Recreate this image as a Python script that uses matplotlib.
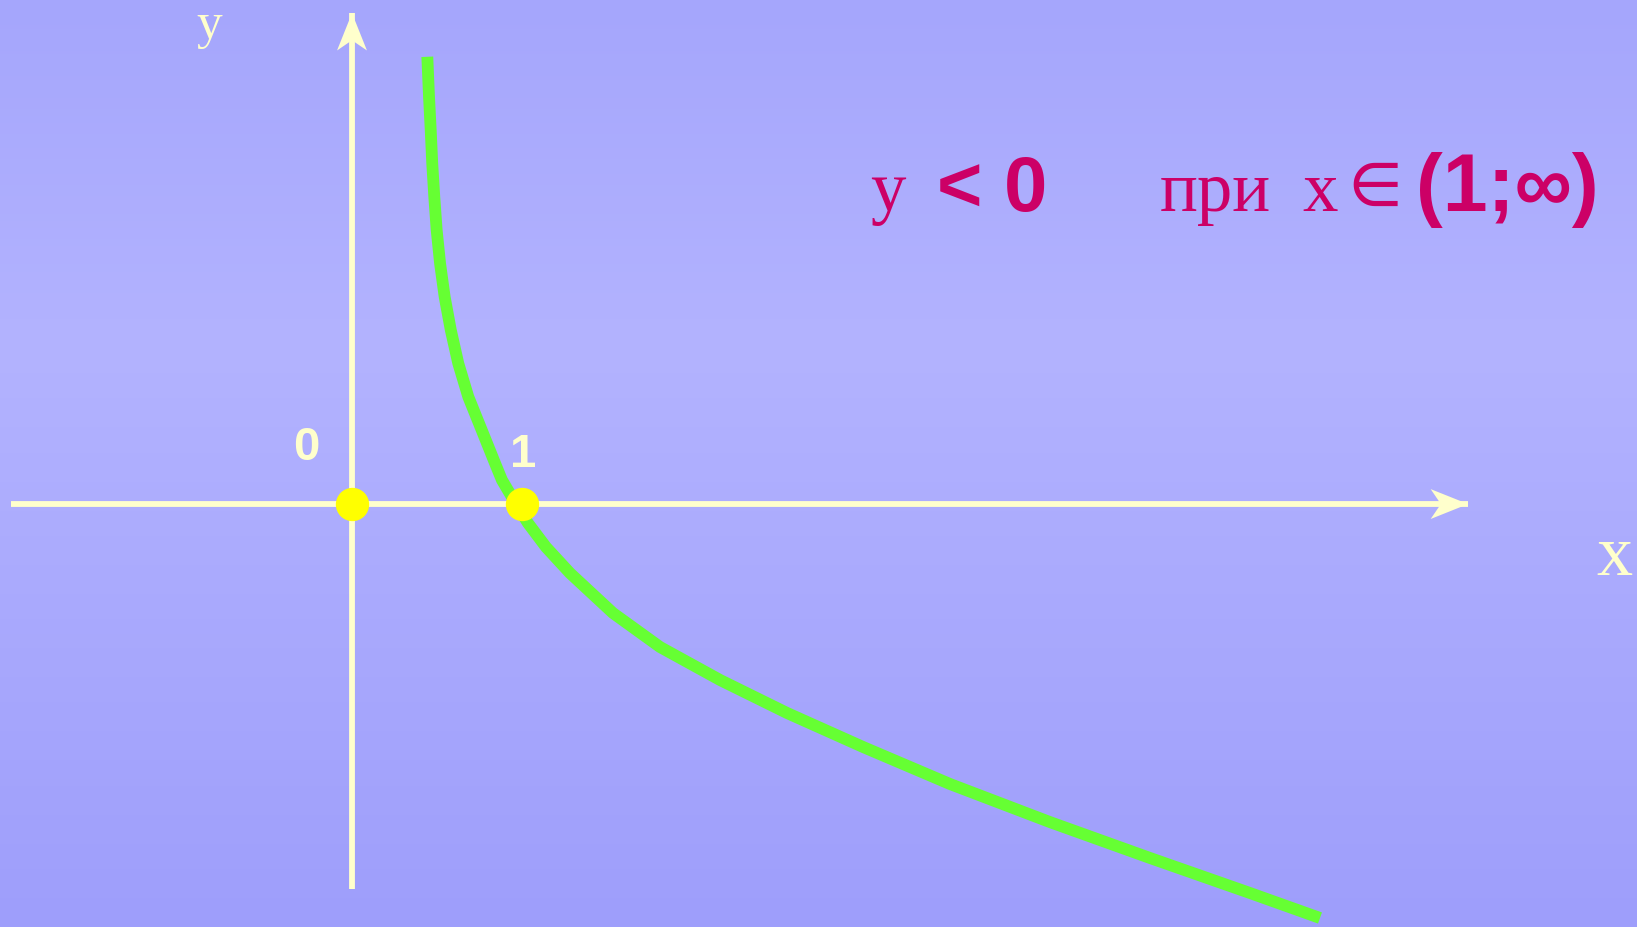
import matplotlib
matplotlib.use("Agg")
import matplotlib.pyplot as plt
import numpy as np
from matplotlib.patches import Polygon

# curve y = log_a(x), 0 < a < 1 (axis units)
curve_x = [0.443, 0.453, 0.463, 0.472, 0.484, 0.498, 0.518, 0.545, 0.581, 0.625,
           0.684, 0.763, 0.841, 0.882, 0.965, 1.035, 1.141, 1.282, 1.535, 1.812,
           2.165, 2.559, 3.006, 3.518, 4.106, 4.694, 5.282, 5.694]
curve_y = [2.631, 2.396, 2.200, 2.004, 1.808, 1.612, 1.416, 1.219, 1.024, 0.828,
           0.631, 0.435, 0.241, 0.141, 0.0, -0.112, -0.253, -0.406, -0.641, -0.841,
           -1.035, -1.229, -1.429, -1.647, -1.871, -2.082, -2.288, -2.435]

# marked points on the x axis
dot_x = [0, 1]
dot_y = [0, 0]
dot_labels = ['0', '1']

# axis extents
x_axis = [-2.006, 6.565]
y_axis = [-2.265, 2.888]

# view window (axis units)
xlim = (-2.0706, 7.5588)
ylim = (-2.488, 2.965)

axis_col = '#FFFFCC'
text_col = '#CC0066'

fig = plt.figure(figsize=(16.37, 9.27), dpi=100)
ax = fig.add_axes([0, 0, 1, 1])
ax.set_xlim(*xlim)
ax.set_ylim(*ylim)
ax.axis('off')

# background gradient (top -> light middle -> bottom)
stops = np.array([0.0, 0.37, 1.0])
cols = np.array([[165, 166, 252], [179, 179, 255], [158, 158, 251]]) / 255
t = np.linspace(0, 1, 256)
grad = np.stack([np.interp(t, stops, cols[:, i]) for i in range(3)], axis=1)
ax.imshow(grad[:, None, :], extent=[xlim[0], xlim[1], ylim[0], ylim[1]],
          aspect='auto', zorder=0)

# axes
ax.plot(x_axis, [0, 0], color=axis_col, lw=4.2, solid_capstyle='butt', zorder=2)
ax.plot([0, 0], y_axis, color=axis_col, lw=4.2, solid_capstyle='butt', zorder=2)


def arrow_head(tip, direction, length=0.22, half=0.088, notch=0.16):
    d = np.array(direction, float)
    n = np.array([-d[1], d[0]])
    tip = np.array(tip, float)
    pts = [tip, tip - d * length + n * half, tip - d * notch,
           tip - d * length - n * half]
    ax.add_patch(Polygon(pts, closed=True, color=axis_col, lw=0, zorder=3))


arrow_head((x_axis[1], 0), (1, 0))
arrow_head((0, y_axis[1]), (0, 1))

# curve
ax.plot(curve_x, curve_y, color='#66FF33', lw=8.5, solid_capstyle='butt',
        solid_joinstyle='round', zorder=4)

# points
ax.plot(dot_x, dot_y, 'o', color='#FFFF00', ms=24, mec='none', zorder=5)
ax.text(-0.27, 0.258, dot_labels[0], color=axis_col, fontsize=34,
        fontfamily='Liberation Sans', fontweight='bold', ha='center', va='baseline')
ax.text(1.006, 0.218, dot_labels[1], color=axis_col, fontsize=34,
        fontfamily='Liberation Sans', fontweight='bold', ha='center', va='baseline')

# axis names
ax.text(-0.84, 2.74, 'y', color=axis_col, fontsize=37,
        fontfamily='Liberation Serif', ha='center', va='baseline')
ax.text(7.424, -0.418, 'x', color=axis_col, fontsize=52,
        fontfamily='Liberation Serif', ha='center', va='baseline')

# statement
base = 1.722
serif = ['Liberation Serif', 'DejaVu Serif']
ax.text(3.05, base, 'y', color=text_col, fontsize=51, family=serif, va='baseline')
ax.text(3.44, base, '< 0', color=text_col, fontsize=56,
        fontfamily='Liberation Sans', fontweight='bold', va='baseline')
ax.text(4.75, base, 'при', color=text_col, fontsize=51, family=serif, va='baseline')
ax.text(5.59, base, 'x', color=text_col, fontsize=51, family=serif, va='baseline')
ax.text(5.86, 1.765, '∈', color=text_col, fontsize=56,
        family=['STIXGeneral', 'DejaVu Serif'], va='baseline')
ax.text(6.26, base, '(1;∞)', color=text_col, fontsize=58,
        family=['Liberation Sans', 'DejaVu Sans'], fontweight='bold', va='baseline')

fig.savefig('out.png', dpi=100)
